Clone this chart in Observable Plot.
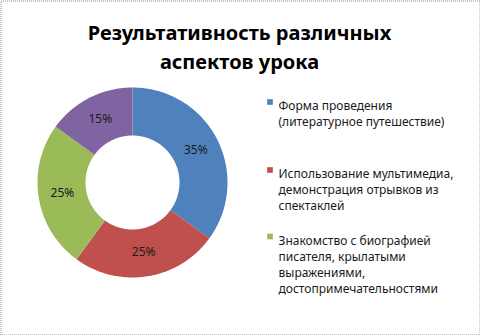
<!DOCTYPE html>
<html>
<head>
<meta charset="utf-8">
<script src="https://cdn.jsdelivr.net/npm/d3@7"></script>
<script src="https://cdn.jsdelivr.net/npm/@observablehq/plot@0.6"></script>
<style>
  html, body { margin: 0; padding: 0; background: #fff; }
  #chart svg { display: block; }
</style>
</head>
<body>
<div id="chart"></div>
<script>
// ---- Data ----
const categories = [
  "Форма проведения (литературное путешествие)",
  "Использование мультимедиа, демонстрация отрывков из спектаклей",
  "Знакомство с биографией писателя, крылатыми выражениями, достопримечательностями",
  "Прочее"
];
const values = [35, 25, 25, 15];
const percentLabels = ["35%", "25%", "25%", "15%"];
const colors = ["#4F81BD", "#C0504D", "#9BBB59", "#8064A2"];
const titleLines = "Результативность различных\nаспектов урока";
const legendTexts = [
  "Форма проведения\n(литературное путешествие)",
  "Использование мультимедиа,\nдемонстрация отрывков из\nспектаклей",
  "Знакомство с биографией\nписателя, крылатыми\nвыражениями,\nдостопримечательностями"
];

// ---- Layout ----
const W = 480, H = 335;
const cx = 132, cy = 182, rOuter = 95, rInner = 47;
const font = "'Noto Sans', sans-serif";

const pie = d3.pie().sort(null).value(d => d)(values);
const ptAt = (a, r) => [cx + r * Math.sin(a), cy - r * Math.cos(a)];

// Polygon outline of each donut slice (outer arc then inner arc back)
const slicePts = [];
pie.forEach((s, i) => {
  const n = 80;
  for (let k = 0; k <= n; k++) {
    const a = s.startAngle + (s.endAngle - s.startAngle) * k / n;
    const [x, y] = ptAt(a, rOuter);
    slicePts.push({i, x, y});
  }
  for (let k = n; k >= 0; k--) {
    const a = s.startAngle + (s.endAngle - s.startAngle) * k / n;
    const [x, y] = ptAt(a, rInner);
    slicePts.push({i, x, y});
  }
});

const labelPts = pie.map((s, i) => {
  const a = (s.startAngle + s.endAngle) / 2;
  const [x, y] = ptAt(a, (rOuter + rInner) / 2);
  return {x, y, t: percentLabels[i]};
});

const legendYs = [98.5, 166.5, 233];
const legendRows = legendTexts.map((t, i) => ({t, i, y: legendYs[i]}));

const chart = Plot.plot({
  width: W,
  height: H,
  margin: 0,
  x: {domain: [0, W], range: [0, W], axis: null},
  y: {domain: [0, H], range: [0, H], axis: null},
  style: {fontFamily: font, background: "#fff"},
  marks: [
    Plot.frame({stroke: "#8c8c8c", strokeDasharray: "1,1", inset: 0.5}),
    Plot.line(slicePts, {
      x: "x", y: "y", z: "i",
      fill: d => colors[d.i], stroke: null, curve: "linear"
    }),
    Plot.text(labelPts, {
      x: "x", y: "y", text: "t",
      fontSize: 12, fill: "#1a1a1a", fontFamily: font
    }),
    Plot.text([titleLines], {
      x: () => 239, y: () => 18.5, text: d => d,
      lineAnchor: "top", lineHeight: 29 / 20,
      fontSize: 20, fontWeight: "bold", fill: "#000", fontFamily: font
    }),
    Plot.dot(legendRows, {
      x: () => 269.5, y: d => d.y + 3, symbol: "square", r: 3.2,
      fill: d => colors[d.i], stroke: null
    }),
    Plot.text(legendRows, {
      x: () => 278, y: "y", text: "t",
      textAnchor: "start", lineAnchor: "top", lineHeight: 16 / 12,
      fontSize: 12, fill: "#1a1a1a", fontFamily: font
    })
  ]
});

document.getElementById("chart").appendChild(chart);
</script>
</body>
</html>
